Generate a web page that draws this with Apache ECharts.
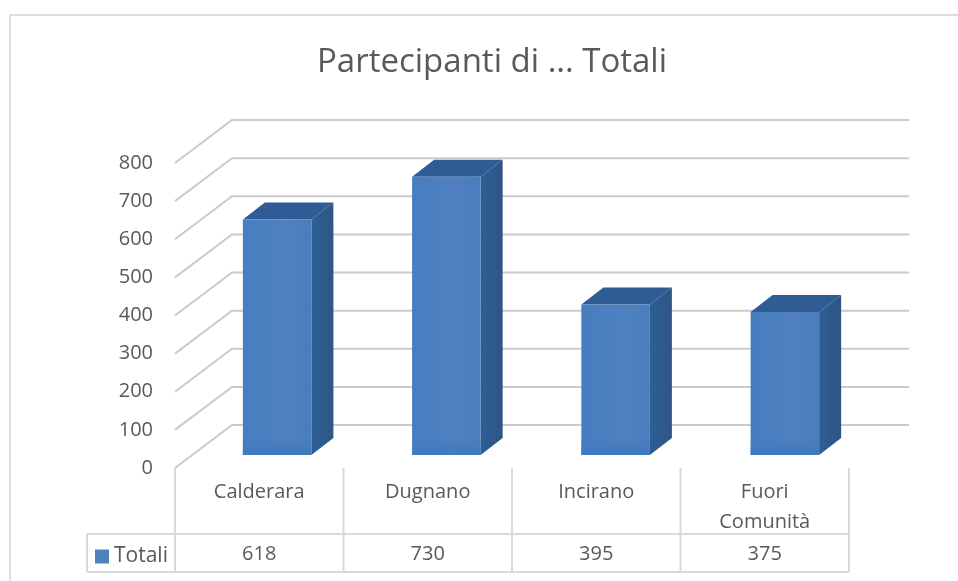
<!DOCTYPE html>
<html>
<head>
<meta charset="utf-8">
<script src="https://cdn.jsdelivr.net/npm/echarts@6/dist/echarts.min.js"></script>
<style>
html,body{margin:0;padding:0;background:#fff}
#main{width:958px;height:581px}
</style>
</head>
<body>
<div id="main"></div>
<script>
var categories=["Calderara","Dugnano","Incirano","Fuori\nComunità"]
var totali=[618,730,395,375]
var tableValues=["618","730","395","375"]
var yTicks=[0,100,200,300,400,500,600,700,800]
var seriesName="Totali"

var depth={x:57,y:43}
var barGap={x:17.5,y:13}
var barDepth={x:22,y:17}
var textColor="#595959"
var fontName="'Open Sans'"

function renderGrid(params,api){
  var c=params.coordSys
  var y=api.coord([0,api.value(0)])[1]
  var x0=c.x
  return {
    type:"polyline",
    silent:true,
    shape:{points:[[x0,y],[x0+depth.x,y-depth.y],[x0+c.width+depth.x,y-depth.y]]},
    style:{fill:null,stroke:"#cbcbcb",lineWidth:2}
  }
}

function renderBar(params,api){
  var i=api.value(0)
  var top=api.coord([i,api.value(1)])
  var bottom=api.coord([i,0])
  var w=api.size([1,0])[0]*0.405
  var l=top[0]-w/2+barGap.x
  var r=l+w
  var t=top[1]-barGap.y
  var b=bottom[1]-barGap.y
  var dx=barDepth.x
  var dy=barDepth.y
  return {
    type:"group",
    children:[
      {type:"polygon",shape:{points:[[r,t],[r+dx,t-dy],[r+dx,b-dy],[r,b]]},
        style:{fill:new echarts.graphic.LinearGradient(0,0,1,0,[{offset:0,color:"#2c5f96"},{offset:1,color:"#2e5585"}])}},
      {type:"polygon",shape:{points:[[l,t],[l+dx,t-dy],[r+dx,t-dy],[r,t]]},
        style:{fill:"#2f5c94"}},
      {type:"rect",shape:{x:l,y:t,width:w,height:b-t},
        style:{fill:new echarts.graphic.LinearGradient(0,0,1,0,[{offset:0,color:"#467ec0"},{offset:0.6,color:"#5080bf"},{offset:1,color:"#4a7dbc"}])}},
      {type:"rect",shape:{x:l,y:b-15,width:w,height:15},
        style:{fill:new echarts.graphic.LinearGradient(0,0,0,1,[{offset:0,color:"rgba(63,122,191,0.2)"},{offset:1,color:"#3f7abf"}])}}
    ]
  }
}

function renderTable(params,api){
  var c=params.coordSys
  var x=c.x
  var w=c.width/categories.length
  var y0=c.y
  var y1=y0+66
  var y2=y0+104
  var left=x-88
  var lines=[[left,y1,x+c.width,y1],[left,y2,x+c.width,y2],[left,y1,left,y2]]
  for(var i=0;i<=categories.length;i++){
    lines.push([x+i*w,y0,x+i*w,y2])
  }
  return {
    type:"group",
    silent:true,
    children:lines.map(function(s){
      return {type:"line",shape:{x1:s[0],y1:s[1],x2:s[2],y2:s[3]},style:{stroke:"#d9d9d9",lineWidth:2}}
    })
  }
}

var myChart=echarts.init(document.getElementById("main"),null,{renderer:"canvas"})
var option={
  backgroundColor:"#fff",
  animation:false,
  graphic:[
    {type:"polyline",silent:true,shape:{points:[[10,581],[10,15],[958,15]]},style:{fill:null,stroke:"#dedede",lineWidth:2}}
  ],
  title:{
    text:"Partecipanti di ... Totali",
    left:487,
    top:41,
    textAlign:"center",
    textStyle:{color:textColor,fontFamily:fontName,fontSize:33,fontWeight:"normal"}
  },
  legend:{
    data:[{name:seriesName,icon:"rect"}],
    left:95,
    top:546,
    itemWidth:14,
    itemHeight:14,
    itemGap:0,
    padding:0,
    textStyle:{color:textColor,fontFamily:fontName,fontSize:21,padding:[-5,0,0,0]}
  },
  grid:[
    {left:175,top:163,width:677,height:305},
    {left:175,top:468,width:674,height:104}
  ],
  xAxis:[
    {type:"category",gridIndex:0,data:categories,axisLine:{show:false},axisTick:{show:false},axisLabel:{show:false}},
    {type:"category",gridIndex:1,data:categories,position:"top",axisLine:{show:false},axisTick:{show:false},
      axisLabel:{inside:true,margin:9,color:textColor,fontFamily:fontName,fontSize:20,lineHeight:30,verticalAlign:"top"}},
    {type:"category",gridIndex:1,data:tableValues,position:"bottom",axisLine:{show:false},axisTick:{show:false},
      axisLabel:{inside:true,margin:8,color:textColor,fontFamily:fontName,fontSize:20,verticalAlign:"bottom"}}
  ],
  yAxis:[
    {type:"value",gridIndex:0,min:0,max:800,interval:100,axisLine:{show:false},axisTick:{show:false},splitLine:{show:false},
      axisLabel:{margin:22,padding:[2,0,0,0],color:textColor,fontFamily:fontName,fontSize:20}},
    {type:"value",gridIndex:1,min:0,max:1,show:false}
  ],
  series:[
    {name:"griglia",type:"custom",xAxisIndex:0,yAxisIndex:0,silent:true,z:1,clip:false,encode:{y:0},data:yTicks.map(function(v){return [v]}),renderItem:renderGrid},
    {name:seriesName,type:"custom",xAxisIndex:0,yAxisIndex:0,z:2,clip:false,color:"#4f81bd",encode:{x:0,y:1},data:totali.map(function(v,i){return [i,v]}),renderItem:renderBar},
    {name:"tabella",type:"custom",xAxisIndex:1,yAxisIndex:1,silent:true,z:1,clip:false,data:[[0,0]],renderItem:renderTable}
  ]
}
myChart.setOption(option)
window.addEventListener("resize",function(){myChart.resize()})
</script>
</body>
</html>
